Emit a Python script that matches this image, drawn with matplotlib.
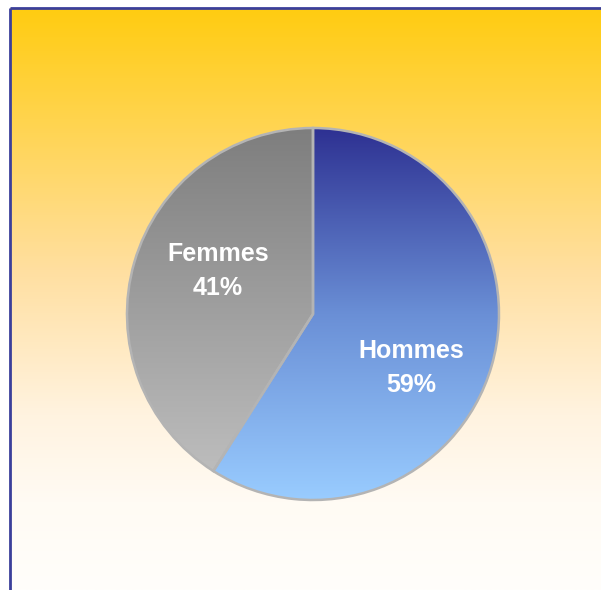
import matplotlib.pyplot as plt
import numpy as np
from matplotlib.colors import LinearSegmentedColormap

# data
labels = ["Hommes", "Femmes"]
parts = [59, 41]
pct_labels = ["59%", "41%"]

W, H = 601, 590
fig = plt.figure(figsize=(W / 100, H / 100), dpi=100)
ax = fig.add_axes([0, 0, 1, 1])

# background gradient (gold -> white), box with blue border on left/top
bg_cmap = LinearSegmentedColormap.from_list(
    "bg", [(0, "#FFCC11"), (0.45, "#FFDFA0"), (0.7, "#FFF3E0"),
           (0.85, "#FFFBF4"), (1, "#FFFEFB")])
grad = np.linspace(0, 1, 256).reshape(-1, 1)
ax.imshow(grad, cmap=bg_cmap, extent=[10, W, 0, H - 8], origin="upper",
          aspect="auto", zorder=0)
ax.plot([10, 10], [0, H - 8], color="#3B3F9A", lw=2, zorder=5, solid_capstyle="butt")
ax.plot([10, W], [H - 8, H - 8], color="#3B3F9A", lw=2, zorder=5, solid_capstyle="butt")

cx, cy, r = 313, 276, 186
wedges, _ = ax.pie(parts, center=(cx, cy), radius=r, startangle=90,
                   counterclock=False, frame=True,
                   wedgeprops=dict(facecolor="none", edgecolor="#B4B4B4", linewidth=1.8))

grads = [[(0, "#2E3192"), (0.5, "#6A8FD6"), (1, "#99CCFF")],
         [(0, "#7E7E7E"), (1, "#C2C2C2")]]
for w, cols in zip(wedges, grads):
    cm = LinearSegmentedColormap.from_list("w", cols)
    im = ax.imshow(grad, cmap=cm, extent=[cx - r, cx + r, cy - r, cy + r],
                   origin="upper", aspect="auto", zorder=2)
    im.set_clip_path(w)
    w.set_zorder(3)

text_pos = [(411, 222), (218, 319)]
for lab, pct, (tx, ty) in zip(labels, pct_labels, text_pos):
    ax.text(tx, ty, lab + "\n" + pct, ha="center", va="center", color="white",
            fontsize=18, fontweight="bold", family="Liberation Sans",
            linespacing=1.5, zorder=6)

ax.set_xlim(0, W)
ax.set_ylim(0, H)
ax.set_aspect("equal")
ax.axis("off")
fig.savefig("out.png", dpi=100)
